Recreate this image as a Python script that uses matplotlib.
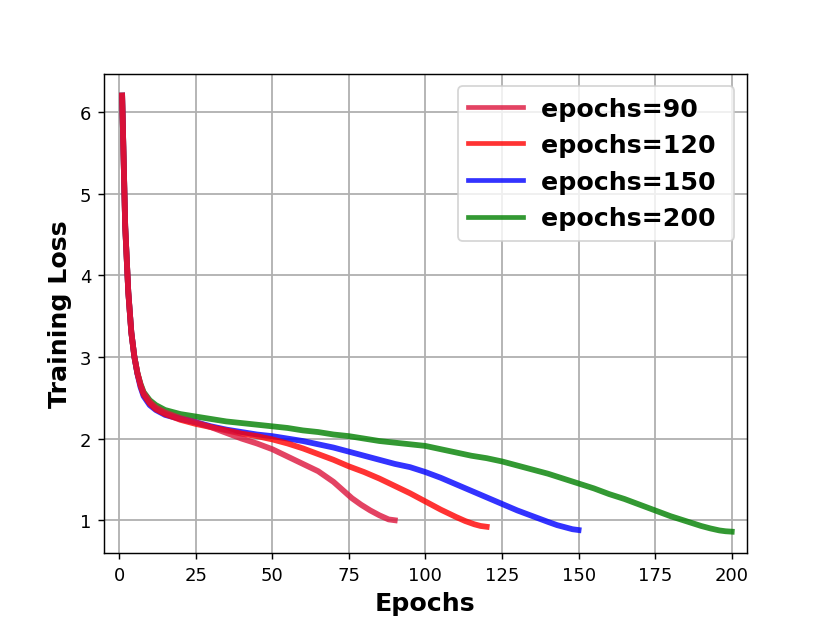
import matplotlib
matplotlib.use('Agg')
import matplotlib.pyplot as plt

# training loss, per run
ep_90 = [1, 2, 3, 4, 5, 6, 7, 8, 10, 12, 15, 20, 25, 30, 35, 40, 45, 50,
         55, 60, 65, 70, 73, 76, 79, 82, 85, 88, 90]
loss_90 = [6.2, 4.6, 3.8, 3.3, 3.0, 2.8, 2.66, 2.56, 2.45, 2.38, 2.32, 2.25,
           2.20, 2.14, 2.07, 2.00, 1.94, 1.87, 1.78, 1.69, 1.60, 1.47, 1.37,
           1.27, 1.19, 1.12, 1.06, 1.01, 1.00]

ep_120 = [1, 2, 3, 4, 5, 6, 7, 8, 10, 12, 15, 20, 25, 30, 35, 40, 45, 50,
          55, 60, 65, 70, 75, 80, 85, 90, 95, 100, 105, 110, 113, 116, 118, 120]
loss_120 = [6.2, 4.6, 3.8, 3.3, 3.0, 2.8, 2.65, 2.54, 2.43, 2.36, 2.30, 2.23,
            2.18, 2.14, 2.10, 2.06, 2.03, 1.99, 1.94, 1.88, 1.81, 1.74, 1.66,
            1.59, 1.51, 1.42, 1.33, 1.23, 1.13, 1.04, 0.99, 0.95, 0.93, 0.92]

ep_150 = [1, 2, 3, 4, 5, 6, 7, 8, 10, 12, 15, 20, 25, 30, 35, 40, 45, 50,
          55, 60, 65, 70, 75, 80, 85, 90, 95, 100, 105, 110, 115, 120, 125,
          130, 135, 140, 143, 146, 148, 150]
loss_150 = [6.2, 4.6, 3.8, 3.3, 3.0, 2.79, 2.63, 2.52, 2.41, 2.35, 2.29,
            2.24, 2.20, 2.15, 2.11, 2.08, 2.05, 2.03, 2.00, 1.97, 1.93, 1.89,
            1.84, 1.79, 1.74, 1.69, 1.65, 1.59, 1.52, 1.44, 1.36, 1.28, 1.20,
            1.12, 1.05, 0.98, 0.94, 0.91, 0.89, 0.88]

ep_200 = [1, 2, 3, 4, 5, 6, 7, 8, 10, 12, 15, 20, 25, 30, 35, 40, 45, 50,
          55, 60, 65, 70, 75, 80, 85, 90, 95, 100, 105, 110, 115, 120, 125,
          130, 135, 140, 145, 150, 155, 160, 165, 170, 175, 180, 185, 190,
          193, 196, 198, 200]
loss_200 = [6.2, 4.6, 3.8, 3.3, 3.0, 2.8, 2.67, 2.57, 2.47, 2.41, 2.35, 2.30,
            2.27, 2.24, 2.21, 2.19, 2.17, 2.15, 2.13, 2.10, 2.08, 2.05, 2.03,
            2.00, 1.97, 1.95, 1.93, 1.91, 1.87, 1.83, 1.79, 1.76, 1.72, 1.67,
            1.62, 1.57, 1.51, 1.45, 1.39, 1.32, 1.26, 1.19, 1.12, 1.05, 0.99,
            0.93, 0.90, 0.875, 0.865, 0.86]

labels = ['epochs=90', 'epochs=120', 'epochs=150', 'epochs=200']

fig = plt.figure(figsize=(6.385, 4.792), dpi=130)
ax = fig.add_subplot(111)

# longest run first so the short ones sit on top
l200, = ax.plot(ep_200, loss_200, color='green', alpha=0.8, lw=3.2)
l150, = ax.plot(ep_150, loss_150, color='blue', alpha=0.8, lw=3.2)
l120, = ax.plot(ep_120, loss_120, color='red', alpha=0.8, lw=3.2)
l90, = ax.plot(ep_90, loss_90, color='crimson', alpha=0.8, lw=3.2)

ax.grid(True, lw=1.0)
ax.set_xlim(-5, 205)
ax.set_xticks(range(0, 201, 25))
ax.set_xlabel('Epochs', fontsize=14, fontweight='bold')
ax.set_ylabel('Training Loss', fontsize=14, fontweight='bold')
# trailing space gives the wider right margin seen in the original box
leg = ax.legend([l90, l120, l150, l200], [s + ' ' for s in labels],
                loc='upper right', prop={'size': 14, 'weight': 'bold'},
                handlelength=2.2, handletextpad=0.7)
for line in leg.get_lines():
    line.set_linewidth(2.6)

fig.savefig('out.png', dpi=130)
